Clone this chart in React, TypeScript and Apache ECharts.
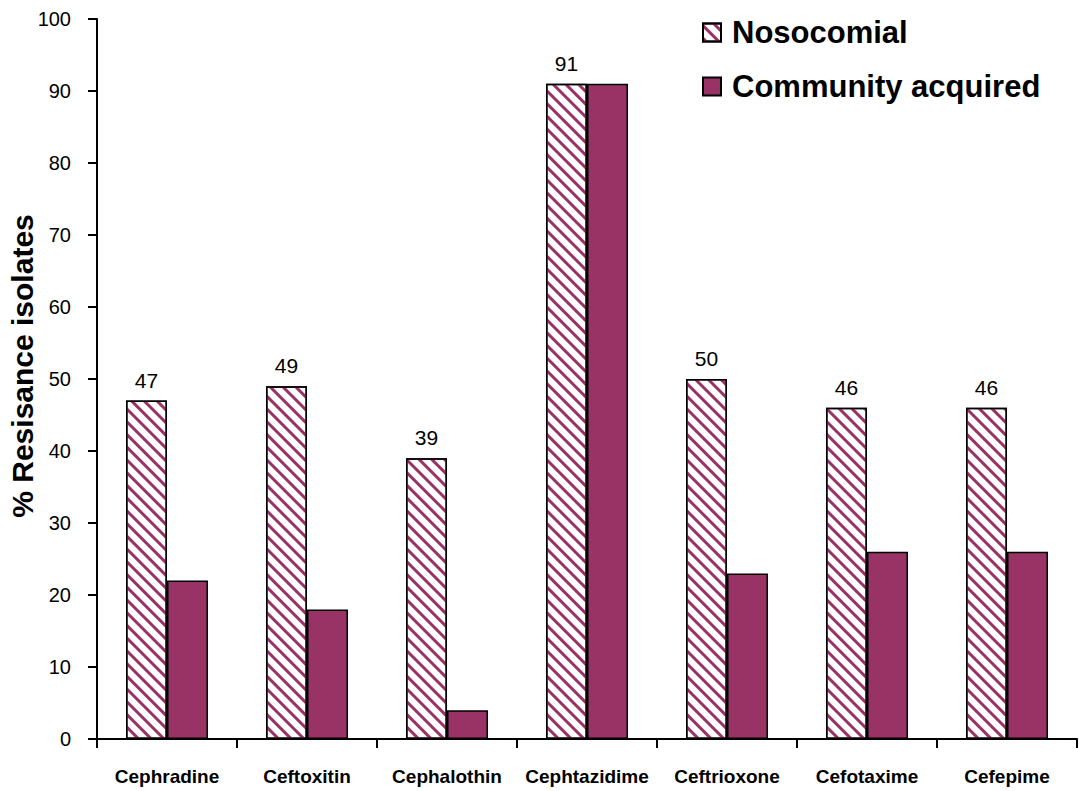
import React, { useEffect, useRef } from "react";
import * as echarts from "echarts";

const categories = [
  "Cephradine",
  "Ceftoxitin",
  "Cephalothin",
  "Cephtazidime",
  "Ceftrioxone",
  "Cefotaxime",
  "Cefepime",
];
const nosocomial = [47, 49, 39, 91, 50, 46, 46];
const community = [22, 18, 4, 91, 23, 26, 26];

const PLUM = "#993366";
const FONT = "'Liberation Sans', Arial, Helvetica, sans-serif";

// diagonal stripes for the nosocomial bars
const hatch = {
  symbol: "rect",
  symbolSize: 1,
  color: PLUM,
  backgroundColor: "#ffffff",
  dashArrayX: [1, 0],
  dashArrayY: [3, 6],
  rotation: Math.PI / 4,
};

export default function App() {
  const ref = useRef<HTMLDivElement>(null);

  useEffect(() => {
    if (!ref.current) return;
    const chart = echarts.init(ref.current, undefined, { renderer: "svg" });
    chart.setOption({
      animation: false,
      backgroundColor: "#ffffff",
      grid: {
        left: 97,
        right: 2,
        top: 19,
        bottom: 52,
        containLabel: false,
        outerBoundsMode: "none",
      },
      legend: {
        orient: "vertical",
        left: 697,
        top: 12,
        itemGap: 23,
        itemWidth: 18,
        itemHeight: 18,
        icon: "rect",
        textStyle: {
          fontFamily: FONT,
          fontSize: 31,
          fontWeight: "bold",
          color: "#000",
          padding: [0, 0, 0, 6],
        },
        data: ["Nosocomial", "Community acquired"],
      },
      xAxis: {
        type: "category",
        data: categories,
        axisLine: { lineStyle: { color: "#000", width: 2 } },
        axisTick: { show: true, length: 9, lineStyle: { color: "#000", width: 2 } },
        axisLabel: {
          margin: 28,
          fontFamily: FONT,
          fontSize: 19,
          fontWeight: "bold",
          color: "#000",
          interval: 0,
        },
      },
      yAxis: {
        type: "value",
        min: 0,
        max: 100,
        interval: 10,
        name: "% Resisance isolates",
        nameLocation: "middle",
        nameGap: 60,
        nameMoveOverlap: false,
        nameTextStyle: {
          fontFamily: FONT,
          fontSize: 30,
          fontWeight: "bold",
          color: "#000",
          padding: [0, 0, 0, 26],
        },
        splitLine: { show: false },
        axisLine: { show: true, lineStyle: { color: "#000", width: 2 } },
        axisTick: { show: true, length: 9, lineStyle: { color: "#000", width: 2 } },
        axisLabel: {
          margin: 26,
          fontFamily: FONT,
          fontSize: 20,
          color: "#000",
        },
      },
      series: [
        {
          name: "Nosocomial",
          type: "bar",
          data: nosocomial,
          barWidth: 41,
          barGap: "0%",
          itemStyle: {
            color: "#ffffff",
            borderColor: "#000",
            borderWidth: 1.5,
            decal: hatch,
          },
          label: {
            show: true,
            position: "top",
            distance: 10,
            fontFamily: FONT,
            fontSize: 21,
            color: "#000",
          },
        },
        {
          name: "Community acquired",
          type: "bar",
          data: community,
          barWidth: 41,
          barGap: "0%",
          itemStyle: {
            color: PLUM,
            borderColor: "#000",
            borderWidth: 1.5,
          },
        },
      ],
    });
    return () => chart.dispose();
  }, []);

  return <div ref={ref} style={{ width: 1079, height: 791, position: "absolute", left: 0, top: 0 }} />;
}
